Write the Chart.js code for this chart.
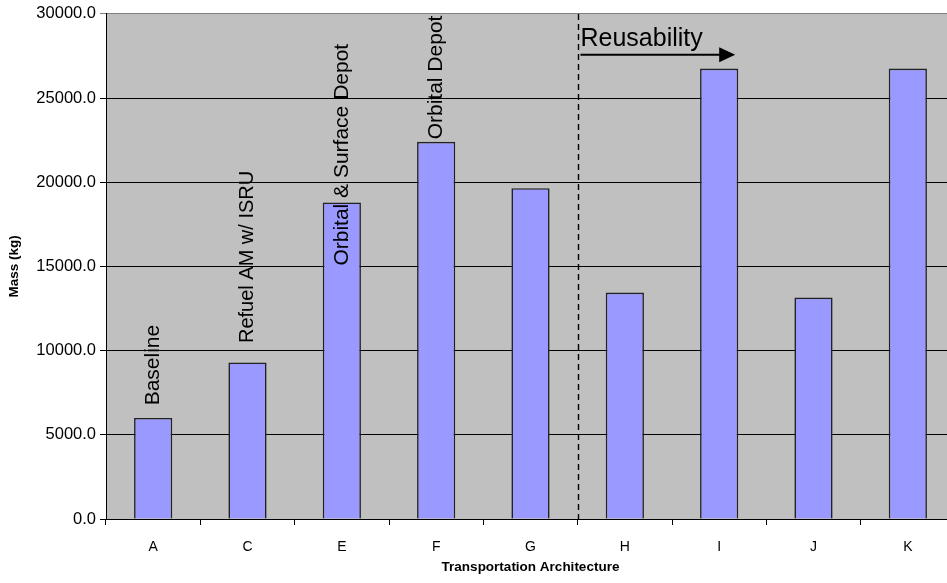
<!DOCTYPE html>
<html>
<head>
<meta charset="utf-8">
<script src="https://cdn.jsdelivr.net/npm/chart.js@4/dist/chart.umd.min.js"></script>
<style>
  html, body { margin: 0; padding: 0; background: #ffffff; overflow: hidden; }
  #wrap { width: 955px; height: 583px; position: relative; }
</style>
</head>
<body>
<div id="wrap"><canvas id="chart"></canvas></div>
<script>
// Transportation architectures and their mass
const categories = ['A', 'C', 'E', 'F', 'G', 'H', 'I', 'J', 'K'];
const massKg = [6000, 9300, 18800, 22400, 19650, 13450, 26750, 13150, 26750];
const yTickValues = [0, 5000, 10000, 15000, 20000, 25000, 30000];

// Vertical notes written above bars (value where the text starts)
const barNotes = [
  { cat: 'A', text: 'Baseline', from: 6750 },
  { cat: 'C', text: 'Refuel AM w/ ISRU', from: 10450 },
  { cat: 'E', text: 'Orbital & Surface Depot', from: 15050 },
  { cat: 'F', text: 'Orbital Depot', from: 22550 }
];
const noteFontPx = { A: 21, C: 20, E: 21, F: 21 };
const reuseLabel = 'Reusability';

const FONT = '"Liberation Sans", Arial, Helvetica, sans-serif';

const plotBackground = {
  id: 'plotBackground',
  beforeDraw(chart) {
    const { ctx, chartArea: a } = chart;
    ctx.save();
    ctx.fillStyle = '#c0c0c0';
    ctx.fillRect(a.left, a.top, a.right - a.left, a.bottom - a.top);
    ctx.restore();
  }
};

const notes = {
  id: 'notes',
  afterDatasetsDraw(chart) {
    const { ctx, chartArea: a } = chart;
    const xs = chart.scales.x, ys = chart.scales.y;
    ctx.save();
    ctx.beginPath();
    ctx.rect(a.left, a.top, a.right - a.left, a.bottom - a.top);
    ctx.clip();

    // rotated captions
    ctx.fillStyle = '#000';
    ctx.textAlign = 'left';
    ctx.textBaseline = 'middle';
    barNotes.forEach(n => {
      const x = xs.getPixelForValue(categories.indexOf(n.cat));
      const y = ys.getPixelForValue(n.from);
      ctx.save();
      ctx.font = noteFontPx[n.cat] + 'px ' + FONT;
      ctx.translate(x, y);
      ctx.rotate(-Math.PI / 2);
      ctx.fillText(n.text, 0, 0);
      ctx.restore();
    });

    // dashed divider between G and H
    const xd = Math.round(xs.getPixelForValue(4.5)) + 0.5;
    ctx.strokeStyle = '#000';
    ctx.lineWidth = 1.4;
    ctx.setLineDash([6, 4]);
    ctx.beginPath();
    ctx.moveTo(xd, a.top);
    ctx.lineTo(xd, a.bottom);
    ctx.stroke();
    ctx.setLineDash([]);

    // "Reusability" with arrow
    ctx.font = '25px ' + FONT;
    ctx.textBaseline = 'alphabetic';
    ctx.fillText(reuseLabel, xd + 2, ys.getPixelForValue(28080));
    const ya = ys.getPixelForValue(27570);
    const x0 = xd + 2;
    const x1 = xs.getPixelForValue(6.17);
    ctx.lineWidth = 2;
    ctx.beginPath();
    ctx.moveTo(x0, ya);
    ctx.lineTo(x1 - 14, ya);
    ctx.stroke();
    ctx.beginPath();
    ctx.moveTo(x1, ya);
    ctx.lineTo(x1 - 16, ya - 7.5);
    ctx.lineTo(x1 - 16, ya + 7.5);
    ctx.closePath();
    ctx.fill();
    ctx.restore();
  }
};

new Chart(document.getElementById('chart'), {
  type: 'bar',
  data: {
    labels: categories,
    datasets: [{
      data: massKg,
      backgroundColor: '#9999ff',
      borderColor: '#222222',
      borderWidth: 1.6,
      categoryPercentage: 1,
      barPercentage: 0.405
    }]
  },
  options: {
    responsive: true,
    maintainAspectRatio: false,
    devicePixelRatio: 1,
    animation: false,
    layout: { padding: { top: 12, right: 0, bottom: 8, left: 0 } },
    plugins: { legend: { display: false }, tooltip: { enabled: false }, title: { display: false } },
    scales: {
      x: {
        offset: true,
        grid: { offset: true, drawOnChartArea: false, drawTicks: true, tickLength: 6, color: '#000' },
        border: { color: '#000', width: 1 },
        ticks: { color: '#000', font: { family: FONT, size: 14 }, padding: 14 },
        title: {
          display: true,
          text: 'Transportation Architecture',
          color: '#000',
          font: { family: FONT, size: 13.5, weight: 'bold' },
          padding: { top: 6, bottom: 0 }
        },
        afterFit(scale) { scale.height = 56; }
      },
      y: {
        min: 0,
        max: 30000,
        afterBuildTicks(scale) { scale.ticks = yTickValues.map(v => ({ value: v })); },
        grid: {
          color: ctx => (ctx.tick && ctx.tick.value === 30000 ? '#808080' : '#000'),
          drawTicks: true,
          tickLength: 6
        },
        border: { color: '#000', width: 1 },
        ticks: {
          color: '#000',
          font: { family: FONT, size: 16.5 },
          padding: 4,
          callback: v => Number(v).toFixed(1)
        },
        title: {
          display: true,
          text: 'Mass (kg)',
          color: '#000',
          font: { family: FONT, size: 13.5, weight: 'bold' },
          padding: { top: 6, bottom: 4 }
        },
        afterFit(scale) { scale.width = 106; }
      }
    }
  },
  plugins: [plotBackground, notes]
});
</script>
</body>
</html>
